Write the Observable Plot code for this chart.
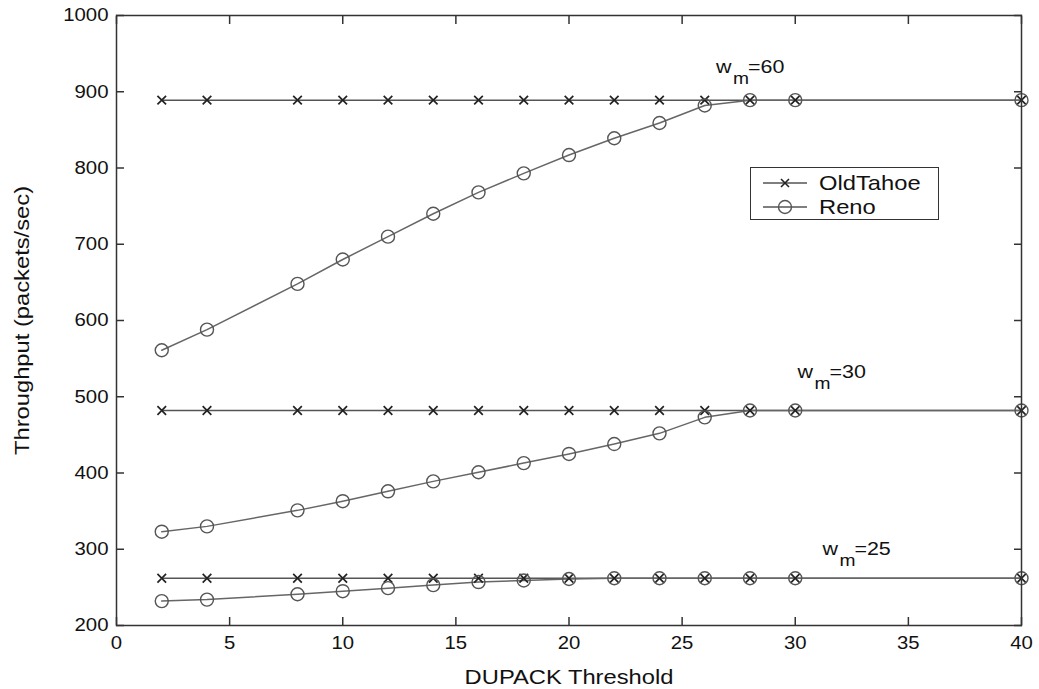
<!DOCTYPE html>
<html><head><meta charset="utf-8">
<script src="https://cdn.jsdelivr.net/npm/d3@7"></script>
<script src="https://cdn.jsdelivr.net/npm/@observablehq/plot@0.6"></script>
<style>
body{margin:0;background:#fff;font-family:"Liberation Sans",Arial,Helvetica,sans-serif;}
#wrap{position:relative;width:1039px;height:689px;}
#legend{position:absolute;left:750px;top:167px;width:189px;height:53px;border:1.5px solid #333;background:#fff;box-sizing:border-box;font-size:21px;color:#111;}
#legend .row{position:absolute;left:0;height:22px;display:flex;align-items:center;}
#legend svg{display:block;}
#legend span{margin-left:12px;display:inline-block;transform:scaleX(1.13);transform-origin:0 50%;line-height:22px;}
</style></head><body><div id="wrap"></div>
<script>
const thresholds = [2, 4, 8, 10, 12, 14, 16, 18, 20, 22, 24, 26, 28, 30, 40];
const oldTahoe60 = [889, 889, 889, 889, 889, 889, 889, 889, 889, 889, 889, 889, 889, 889, 889];
const reno60     = [561, 588, 648, 680, 710, 740, 768, 793, 817, 839, 859, 882, 889, 889, 889];
const oldTahoe30 = [482, 482, 482, 482, 482, 482, 482, 482, 482, 482, 482, 482, 482, 482, 482];
const reno30     = [323, 330, 351, 363, 376, 389, 401, 413, 425, 438, 452, 473, 482, 482, 482];
const oldTahoe25 = [262, 262, 262, 262, 262, 262, 262, 262, 262, 262, 262, 262, 262, 262, 262];
const reno25     = [232, 234, 241, 245, 249, 253, 257, 259, 261, 262, 262, 262, 262, 262, 262];
const seriesNames = ["OldTahoe", "Reno"];
const labelX = [26.5, 30.1, 31.2];
const labelY = [924, 525, 293];
const labelValue = ["=60", "=30", "=25"];
const xTicks = [0, 5, 10, 15, 20, 25, 30, 35, 40];
const yTicks = [200, 300, 400, 500, 600, 700, 800, 900, 1000];

function rowsOf(name, wm, values) {
  return thresholds.map((t, i) => ({series: name, wm, x: t, y: values[i]}));
}
const tahoeRows = [...rowsOf("OldTahoe", 60, oldTahoe60), ...rowsOf("OldTahoe", 30, oldTahoe30), ...rowsOf("OldTahoe", 25, oldTahoe25)];
const renoRows = [...rowsOf("Reno", 60, reno60), ...rowsOf("Reno", 30, reno30), ...rowsOf("Reno", 25, reno25)];
const labels = labelX.map((x, i) => ({x, y: labelY[i], v: labelValue[i]}));

const chart = Plot.plot({
  width: 1039, height: 689,
  marginLeft: 116, marginRight: 18, marginTop: 15, marginBottom: 64,
  style: {fontFamily: '"Liberation Sans", Arial, Helvetica, sans-serif', fontSize: "18px", color: "#111", background: "#fff"},
  x: {domain: [0, 40]},
  y: {domain: [200, 1000]},
  marks: [
    Plot.axisX({ticks: xTicks, tickFormat: d => String(d), tickSize: 0, tickPadding: 11, fontSize: 18, label: null}),
    Plot.axisX({ticks: [], tickSize: 0, fontSize: 21, label: "DUPACK Threshold", labelAnchor: "center", labelArrow: "none", labelOffset: 58}),
    Plot.axisX({anchor: "bottom", ticks: xTicks, tickSize: 8, dy: -8, text: null, label: null, stroke: "#333", strokeWidth: 1.5}),
    Plot.axisX({anchor: "top", ticks: xTicks, tickSize: 8, dy: 8, text: null, label: null, stroke: "#333", strokeWidth: 1.5}),
    Plot.axisY({ticks: yTicks, tickFormat: d => String(d), tickSize: 0, tickPadding: 8, fontSize: 18, label: null}),
    Plot.axisY({ticks: [], tickSize: 0, fontSize: 21, label: "Throughput (packets/sec)", labelAnchor: "center", labelArrow: "none", labelOffset: 102}),
    Plot.axisY({anchor: "left", ticks: yTicks, tickSize: 8, dx: 8, text: null, label: null, stroke: "#333", strokeWidth: 1.5}),
    Plot.axisY({anchor: "right", ticks: yTicks, tickSize: 8, dx: -8, text: null, label: null, stroke: "#333", strokeWidth: 1.5}),
    Plot.line(tahoeRows, {x: "x", y: "y", z: "wm", stroke: "#555", strokeWidth: 1.5}),
    Plot.line(renoRows, {x: "x", y: "y", z: "wm", stroke: "#666", strokeWidth: 1.5}),
    Plot.dot(tahoeRows, {x: "x", y: "y", symbol: "times", r: 4, stroke: "#222", strokeWidth: 1.7}),
    Plot.dot(renoRows, {x: "x", y: "y", symbol: "circle", r: 6.5, stroke: "#555", fill: "none", strokeWidth: 1.4}),
    Plot.text(labels, {x: "x", y: "y", text: () => "w", textAnchor: "start", lineAnchor: "bottom", fontSize: 19, fill: "#111"}),
    Plot.text(labels, {x: "x", y: "y", text: () => "m", textAnchor: "start", lineAnchor: "bottom", dx: 17, dy: 11, fontSize: 17, fill: "#111"}),
    Plot.text(labels, {x: "x", y: "y", text: "v", textAnchor: "start", lineAnchor: "bottom", dx: 32, fontSize: 19, fill: "#111"}),
    Plot.frame({stroke: "#333", strokeWidth: 1.5})
  ]
});
const wrap = document.getElementById("wrap");
wrap.appendChild(chart);

// Widen glyphs slightly, as in the reference's stretched Helvetica
d3.select(chart).selectAll("text").each(function() {
  const L = this.getComputedTextLength();
  if (L > 0) {
    this.setAttribute("textLength", (L * 1.13).toFixed(1));
    this.setAttribute("lengthAdjust", "spacingAndGlyphs");
  }
});

const legend = document.createElement("div");
legend.id = "legend";
seriesNames.forEach((name, i) => {
  const row = document.createElement("div");
  row.className = "row";
  row.style.top = (4 + i * 24) + "px";
  row.style.left = "12px";
  const sym = i === 0
    ? '<path d="M-4,-4L4,4M-4,4L4,-4" stroke="#222" stroke-width="1.6"/>'
    : '<circle r="6.5" fill="none" stroke="#555" stroke-width="1.4"/>';
  row.innerHTML = `<svg width="44" height="22"><g transform="translate(22,11)"><line x1="-22" x2="22" stroke="#555" stroke-width="1.5"/>${sym}</g></svg><span>${name}</span>`;
  legend.appendChild(row);
});
wrap.appendChild(legend);
</script></body></html>
